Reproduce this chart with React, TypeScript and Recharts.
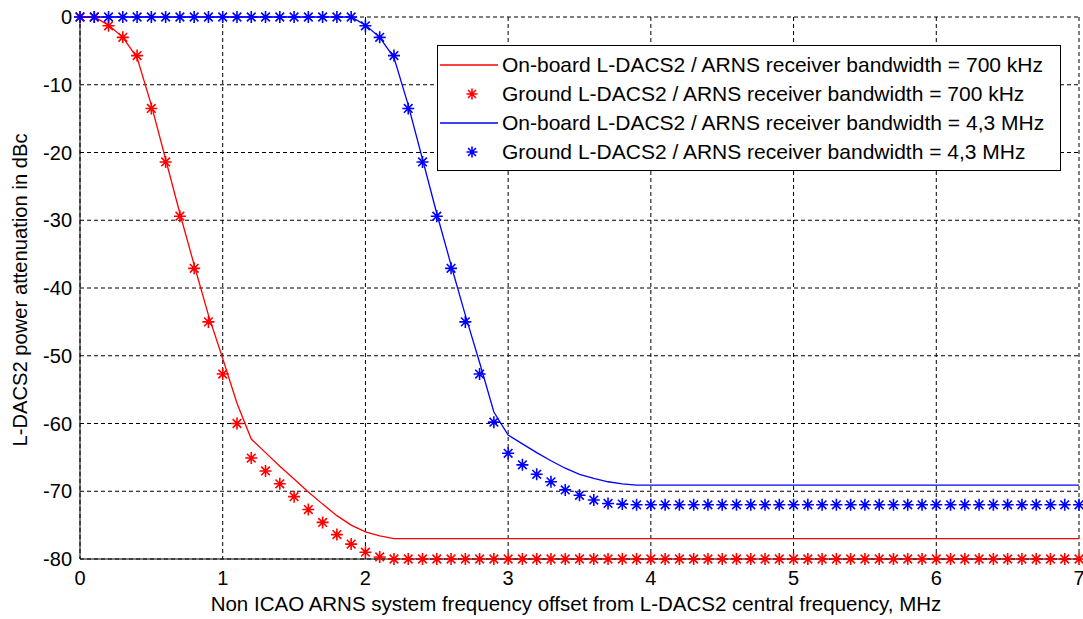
import React from 'react';
import { LineChart, Line, XAxis, YAxis, CartesianGrid, Legend } from 'recharts';

const xSteps: number[] = [
  0, 0.1, 0.2, 0.3, 0.4, 0.5, 0.6, 0.7, 0.8, 0.9,
  1, 1.1, 1.2, 1.3, 1.4, 1.5, 1.6, 1.7, 1.8, 1.9,
  2, 2.1, 2.2, 2.3, 2.4, 2.5, 2.6, 2.7, 2.8, 2.9,
  3, 3.1, 3.2, 3.3, 3.4, 3.5, 3.6, 3.7, 3.8, 3.9,
  4, 4.1, 4.2, 4.3, 4.4, 4.5, 4.6, 4.7, 4.8, 4.9,
  5, 5.1, 5.2, 5.3, 5.4, 5.5, 5.6, 5.7, 5.8, 5.9,
  6, 6.1, 6.2, 6.3, 6.4, 6.5, 6.6, 6.7, 6.8, 6.9,
  7,
];

const onboard700: number[] = [
  0, 0, -1.2, -3, -6, -13, -21, -29, -36.6, -44,
  -50.4, -57, -62.3, -64.3, -66.3, -68.2, -70.1, -71.9, -73.6, -75,
  -76, -76.6, -77, -77, -77, -77, -77, -77, -77, -77,
  -77, -77, -77, -77, -77, -77, -77, -77, -77, -77,
  -77, -77, -77, -77, -77, -77, -77, -77, -77, -77,
  -77, -77, -77, -77, -77, -77, -77, -77, -77, -77,
  -77, -77, -77, -77, -77, -77, -77, -77, -77, -77,
  -77,
];

const ground700: number[] = [
  0, 0, -1.3, -3, -5.7, -13.5, -21.4, -29.4, -37.1, -45,
  -52.7, -60, -65.1, -67, -68.9, -70.8, -72.7, -74.6, -76.4, -77.8,
  -79, -79.7, -80, -80, -80, -80, -80, -80, -80, -80,
  -80, -80, -80, -80, -80, -80, -80, -80, -80, -80,
  -80, -80, -80, -80, -80, -80, -80, -80, -80, -80,
  -80, -80, -80, -80, -80, -80, -80, -80, -80, -80,
  -80, -80, -80, -80, -80, -80, -80, -80, -80, -80,
  -80,
];

const onboard43: number[] = [
  0, 0, 0, 0, 0, 0, 0, 0, 0, 0,
  0, 0, 0, 0, 0, 0, 0, 0, 0, 0,
  -1.2, -3, -6, -13, -21, -29, -36.6, -44, -51, -58.3,
  -61.7, -63, -64.3, -65.5, -66.6, -67.5, -68.1, -68.6, -68.9, -69.1,
  -69.1, -69.1, -69.1, -69.1, -69.1, -69.1, -69.1, -69.1, -69.1, -69.1,
  -69.1, -69.1, -69.1, -69.1, -69.1, -69.1, -69.1, -69.1, -69.1, -69.1,
  -69.1, -69.1, -69.1, -69.1, -69.1, -69.1, -69.1, -69.1, -69.1, -69.1,
  -69.1,
];

const ground43: number[] = [
  0, 0, 0, 0, 0, 0, 0, 0, 0, 0,
  0, 0, 0, 0, 0, 0, 0, 0, 0, 0,
  -1.3, -3, -5.7, -13.5, -21.4, -29.4, -37.1, -45, -52.7, -59.8,
  -64.4, -66.1, -67.5, -68.6, -69.8, -70.6, -71.3, -71.8, -71.9, -72,
  -72, -72, -72, -72, -72, -72, -72, -72, -72, -72,
  -72, -72, -72, -72, -72, -72, -72, -72, -72, -72,
  -72, -72, -72, -72, -72, -72, -72, -72, -72, -72,
  -72,
];

const xTicks: number[] = [0, 1, 2, 3, 4, 5, 6, 7];
const yTicks: number[] = [0, -10, -20, -30, -40, -50, -60, -70, -80];

const xAxisTitle = 'Non ICAO ARNS system frequency offset from L-DACS2 central frequency, MHz';
const yAxisTitle = 'L-DACS2 power attenuation in dBc';

const legendLabels: string[] = [
  'On-board L-DACS2 / ARNS receiver bandwidth = 700 kHz',
  'Ground L-DACS2 / ARNS receiver bandwidth = 700 kHz',
  'On-board L-DACS2 / ARNS receiver bandwidth = 4,3 MHz',
  'Ground L-DACS2 / ARNS receiver bandwidth = 4,3 MHz',
];

const RED = '#ff0000';
const BLUE = '#0000ff';
const FONT = '"Liberation Sans", Arial, sans-serif';

const data = xSteps.map((x, i) => ({
  x,
  onboard700: onboard700[i],
  ground700: ground700[i],
  onboard43: onboard43[i],
  ground43: ground43[i],
}));

const starPath = (cx: number, cy: number, r: number) => {
  const d = r * 0.72;
  return `M${cx - r},${cy}L${cx + r},${cy}M${cx},${cy - r}L${cx},${cy + r}M${cx - d},${cy - d}L${cx + d},${cy + d}M${cx - d},${cy + d}L${cx + d},${cy - d}`;
};

const makeStar = (color: string) => (props: any) => {
  const { cx, cy, index } = props;
  if (cx == null || cy == null) return <g key={`s-${index}`} />;
  return (
    <path key={`s-${color}-${index}`} d={starPath(cx, cy, 6)} stroke={color} strokeWidth={1.6} fill="none" />
  );
};

const XTick = (props: any) => {
  const { x, y, payload } = props;
  return (
    <text x={x} y={y} dy={16} textAnchor="middle" fill="#000" fontSize={20} fontFamily={FONT}>
      {payload.value}
    </text>
  );
};

const YTick = (props: any) => {
  const { x, y, payload } = props;
  return (
    <text x={x} y={y} dy={7} textAnchor="end" fill="#000" fontSize={20} fontFamily={FONT}>
      {payload.value}
    </text>
  );
};

const XTitle = () => (
  <text x={576} y={611} textAnchor="middle" fill="#000" fontSize={20.5} fontFamily={FONT}>
    {xAxisTitle}
  </text>
);

const YTitle = () => (
  <text
    transform="translate(27,290) rotate(-90)"
    x={0}
    y={0}
    textAnchor="middle"
    fill="#000"
    fontSize={20.2}
    fontFamily={FONT}
  >
    {yAxisTitle}
  </text>
);

const LegendBox = () => {
  const rows = [
    { color: RED, kind: 'line' },
    { color: RED, kind: 'star' },
    { color: BLUE, kind: 'line' },
    { color: BLUE, kind: 'star' },
  ];
  return (
    <div
      style={{
        width: 622,
        height: 119,
        border: '1px solid #000',
        background: '#fff',
        fontFamily: FONT,
        fontSize: 21,
        color: '#000',
        boxSizing: 'content-box',
        paddingTop: 4.5,
        overflow: 'hidden',
      }}
    >
      {rows.map((r, i) => (
        <div key={i} style={{ display: 'flex', alignItems: 'center', height: 29 }}>
          <svg width={64} height={20} style={{ flex: 'none' }}>
            {r.kind === 'line' ? (
              <line x1={2} y1={10} x2={60} y2={10} stroke={r.color} strokeWidth={1.3} />
            ) : (
              <path d={starPath(34, 10, 5.5)} stroke={r.color} strokeWidth={1.6} fill="none" />
            )}
          </svg>
          <span style={{ whiteSpace: 'nowrap' }}>{legendLabels[i]}</span>
        </div>
      ))}
    </div>
  );
};

export default function App() {
  return (
    <div style={{ position: 'absolute', left: 0, top: 0, width: 1083, height: 619, background: '#fff' }}>
      <LineChart
        width={1083}
        height={619}
        data={data}
        margin={{ top: 17, right: 4, bottom: 0, left: 0 }}
        style={{ fontFamily: FONT }}
      >
        <CartesianGrid stroke="#000" strokeDasharray="4 3" strokeWidth={1} />
        <XAxis
          dataKey="x"
          type="number"
          domain={[0, 7]}
          ticks={xTicks}
          height={60}
          tickLine={false}
          axisLine={{ stroke: '#000' }}
          tick={<XTick />}
          tickMargin={4}
          label={{ content: () => <XTitle /> }}
        />
        <XAxis
          xAxisId="top"
          orientation="top"
          dataKey="x"
          type="number"
          domain={[0, 7]}
          ticks={xTicks}
          height={0}
          tick={false}
          tickLine={false}
          axisLine={{ stroke: '#000' }}
        />
        <YAxis
          type="number"
          domain={[-80, 0]}
          ticks={yTicks}
          width={80}
          tickLine={false}
          axisLine={{ stroke: '#000' }}
          tick={<YTick />}
          tickMargin={2}
          interval={0}
          label={{ content: () => <YTitle /> }}
        />
        <YAxis
          yAxisId="right"
          orientation="right"
          type="number"
          domain={[-80, 0]}
          ticks={yTicks}
          width={0}
          tick={false}
          tickLine={false}
          axisLine={{ stroke: '#000' }}
        />
        <Legend
          layout="vertical"
          align="center"
          verticalAlign="middle"
          content={() => <LegendBox />}
          wrapperStyle={{ position: 'absolute', left: 437, top: 45, width: 624, height: 126 }}
        />
        <Line
          dataKey="onboard700"
          stroke={RED}
          strokeWidth={1.3}
          dot={false}
          isAnimationActive={false}
          type="linear"
        />
        <Line
          dataKey="ground700"
          stroke="none"
          dot={makeStar(RED)}
          activeDot={false}
          isAnimationActive={false}
          type="linear"
        />
        <Line
          dataKey="onboard43"
          stroke={BLUE}
          strokeWidth={1.3}
          dot={false}
          isAnimationActive={false}
          type="linear"
        />
        <Line
          dataKey="ground43"
          stroke="none"
          dot={makeStar(BLUE)}
          activeDot={false}
          isAnimationActive={false}
          type="linear"
        />
      </LineChart>
    </div>
  );
}
